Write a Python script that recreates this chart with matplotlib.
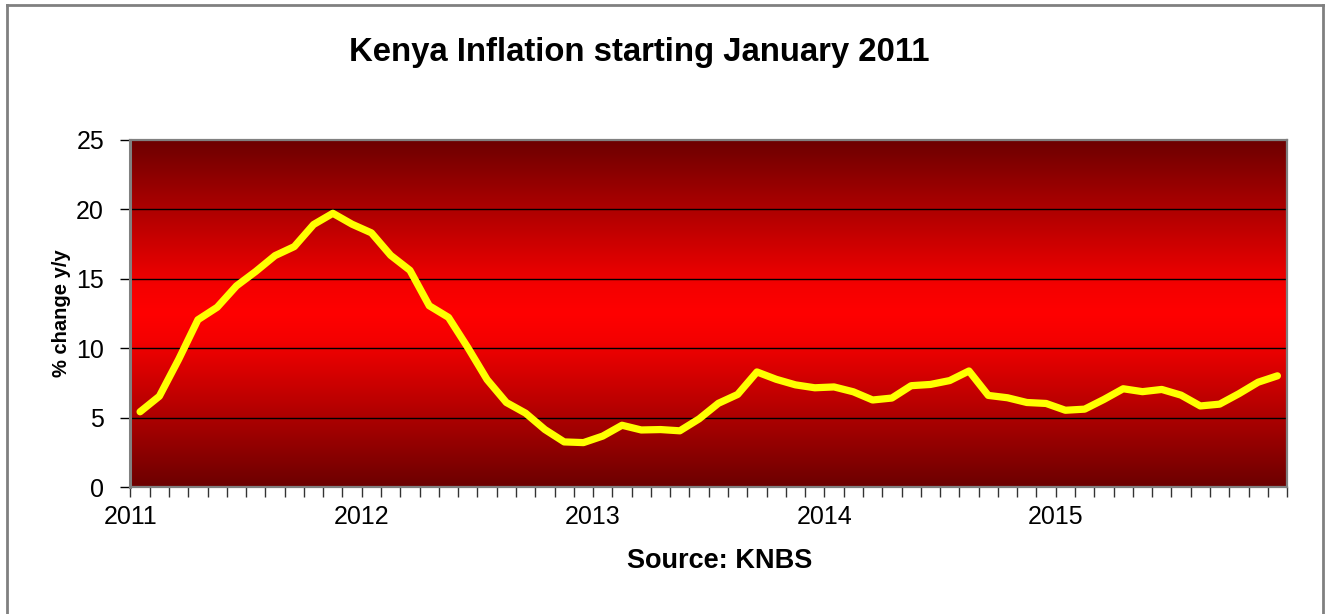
import matplotlib
matplotlib.use("Agg")
import matplotlib.pyplot as plt
import numpy as np
from matplotlib.colors import LinearSegmentedColormap
from matplotlib.lines import Line2D

plt.rcParams['font.family'] = ['Liberation Sans', 'DejaVu Sans']

####################### Data #############################
# Monthly CPI inflation, % change y/y, Jan 2011 - Dec 2015
year_labels = ['2011', '2012', '2013', '2014', '2015']
inflation = [
    5.42, 6.54, 9.19, 12.05, 12.95, 14.49, 15.53, 16.67, 17.32, 18.91, 19.72, 18.93,   # 2011
    18.31, 16.69, 15.61, 13.06, 12.22, 10.05, 7.74, 6.09, 5.32, 4.14, 3.25, 3.20,     # 2012
    3.67, 4.45, 4.11, 4.14, 4.05, 4.91, 6.03, 6.67, 8.29, 7.76, 7.36, 7.15,           # 2013
    7.21, 6.86, 6.27, 6.41, 7.30, 7.39, 7.67, 8.36, 6.60, 6.43, 6.09, 6.02,           # 2014
    5.53, 5.61, 6.31, 7.08, 6.87, 7.03, 6.62, 5.84, 5.97, 6.72, 7.55, 8.01,           # 2015
]
y_ticks = [0, 5, 10, 15, 20, 25]

####################### Create Plot #############################
fig = plt.figure(figsize=(13.27, 6.14), dpi=100)
ax = fig.add_axes([0.0983, 0.2068, 0.8716, 0.5652])

months = np.arange(len(inflation))
ax.set_xlim(-0.5, len(inflation) - 0.5)
ax.set_ylim(0, 25)

# dark-red -> red -> dark-red background
grad_cmap = LinearSegmentedColormap.from_list(
    'redband', [(0.0, '#6c0000'), (0.42, '#f40000'), (0.5, '#ff0000'),
                (0.58, '#f40000'), (1.0, '#6c0000')])
grad = np.linspace(0, 1, 256).reshape(-1, 1)
ax.imshow(grad, cmap=grad_cmap, aspect='auto', extent=[-0.5, len(inflation) - 0.5, 0, 25],
          origin='lower', zorder=0, interpolation='bilinear')

for yv in y_ticks[1:-1]:
    ax.axhline(yv, color='black', linewidth=1.0, zorder=1)

ax.plot(months, inflation, color='#ffff00', linewidth=5.2,
        solid_capstyle='round', solid_joinstyle='round', zorder=3)

# axes styling
for side in ['left', 'top', 'right', 'bottom']:
    ax.spines[side].set_color('#808080')
    ax.spines[side].set_linewidth(1.6)
    ax.spines[side].set_zorder(4)
ax.spines['left'].set_linewidth(2.2)

ax.set_yticks(y_ticks)
ax.tick_params(axis='y', direction='out', length=7, width=1, color='black',
               labelsize=18, pad=12)

month_edges = np.arange(len(inflation) + 1) - 0.5
ax.set_xticks(month_edges, minor=True)
ax.set_xticks(month_edges[:-1:12])
ax.set_xticklabels(year_labels)
ax.tick_params(axis='x', which='both', direction='out', length=7, width=1,
               color='#333333', labelsize=18, pad=6)

ax.set_ylabel('% change y/y', fontsize=14.5, fontweight='bold', labelpad=4)

fig.text(720 / 1327, 1 - 561 / 614, 'Source: KNBS', ha='center', va='center',
         fontsize=19.5, fontweight='bold')
fig.text(639 / 1327, 1 - 52 / 614, 'Kenya Inflation starting January 2011', ha='center',
         va='center', fontsize=23.7, fontweight='bold')

# chart frame around the whole figure
frame_kw = dict(color='#808080', linewidth=2, transform=fig.transFigure)
fig.add_artist(Line2D([7 / 1327, 7 / 1327], [0, 1 - 5 / 614], **frame_kw))
fig.add_artist(Line2D([7 / 1327, 1323 / 1327], [1 - 5 / 614, 1 - 5 / 614], **frame_kw))
fig.add_artist(Line2D([1323 / 1327, 1323 / 1327], [0, 1 - 5 / 614], **frame_kw))

fig.savefig('out.png', dpi=100)
